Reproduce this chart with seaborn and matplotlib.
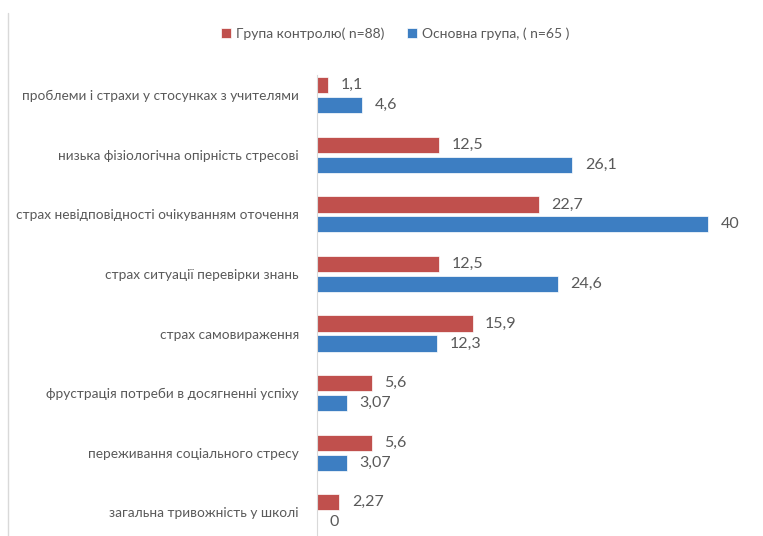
import pandas as pd
import matplotlib.pyplot as plt
import seaborn as sns

categories = ['проблеми і страхи у стосунках з учителями',
              'низька фізіологічна опірність стресові',
              'страх невідповідності очікуванням оточення',
              'страх ситуації перевірки знань',
              'страх самовираження',
              'фрустрація потреби в досягненні успіху',
              'переживання соціального стресу',
              'загальна тривожність у школі']
control = [1.1, 12.5, 22.7, 12.5, 15.9, 5.6, 5.6, 2.27]
main = [4.6, 26.1, 40, 24.6, 12.3, 3.07, 3.07, 0]
groups = ['Група контролю( n=88)', 'Основна група, ( n=65 )']

data = pd.DataFrame({
    'category': categories * 2,
    'value': control + main,
    'group': [groups[0]] * len(categories) + [groups[1]] * len(categories),
})

sns.set_style('white')
plt.rcParams['font.family'] = ['Lato', 'DejaVu Sans']
grey = '#595959'

fig = plt.figure(figsize=(7.63, 5.36), dpi=100)
ax = fig.add_axes([0.4155, 0.0, 0.577, 0.86])

sns.barplot(data=data, x='value', y='category', hue='group', orient='h',
            palette=['#C0504D', '#3D7EC2'], saturation=1, width=0.67, gap=0.19,
            edgecolor='white', linewidth=0.5, ax=ax)

for cont, vals in zip(ax.containers, [control, main]):
    labels = [f'{v:g}'.replace('.', ',') for v in vals]
    ax.bar_label(cont, labels=labels, padding=9, color=grey, fontsize=11.5)

ax.set_xlim(0, 45)
ax.set_ylim(7.4, -0.34)
ax.set_xlabel('')
ax.set_ylabel('')
ax.set_xticks([])
ax.tick_params(axis='y', length=0, pad=13, labelsize=9.8, labelcolor=grey)
for side in ['top', 'right', 'bottom']:
    ax.spines[side].set_visible(False)
ax.spines['left'].set_color('#d9d9d9')

leg = ax.get_legend()
handles = leg.legend_handles
leg.remove()
fig.legend(handles=handles, labels=groups, loc='center',
           bbox_to_anchor=(0.518, 0.938), ncol=2, frameon=False,
           fontsize=10, labelcolor=grey, handlelength=0.7, handleheight=0.7,
           handletextpad=0.4, columnspacing=1.6)

fig.add_artist(plt.Line2D([0.0105, 0.0105], [0, 0.976], color='#d9d9d9',
                          linewidth=1, transform=fig.transFigure))

fig.savefig('out.png', dpi=100)
